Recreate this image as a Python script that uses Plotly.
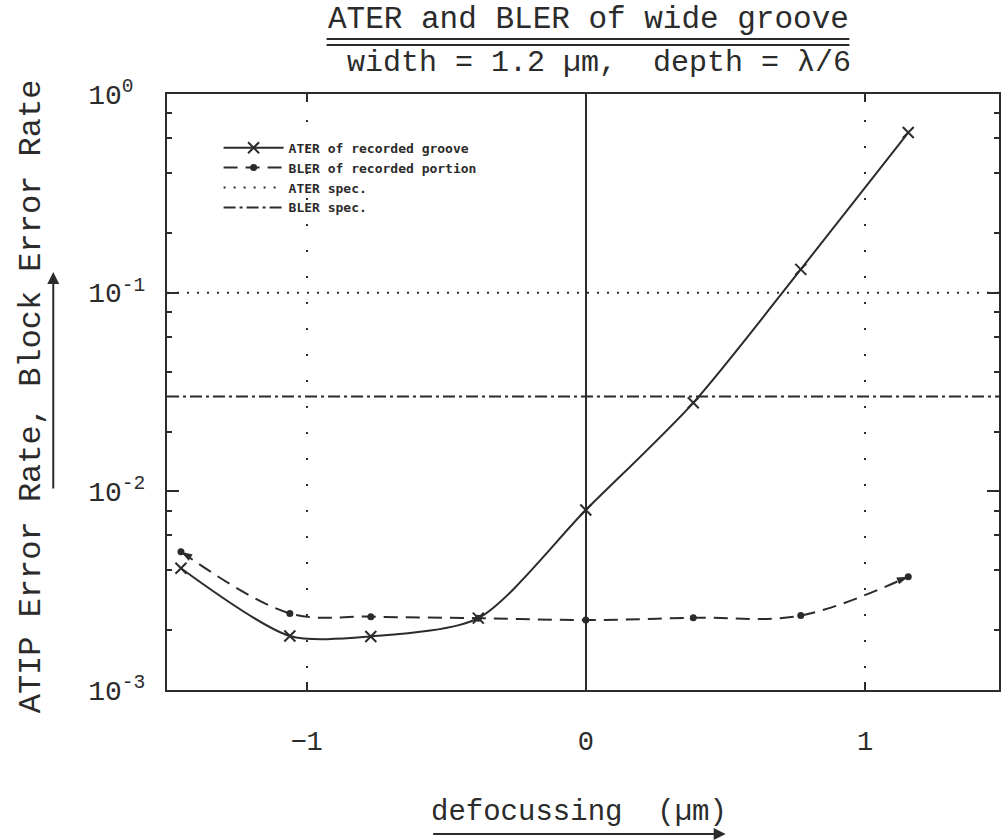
import plotly.graph_objects as go

# ---- data ----
DEFOCUS = [-1.45, -1.06, -0.77, -0.385, 0.0, 0.385, 0.77, 1.155]
ATER = [4.1e-3, 1.87e-3, 1.86e-3, 2.30e-3, 8.05e-3, 0.0279, 0.131, 0.64]
BLER = [4.97e-3, 2.43e-3, 2.34e-3, 2.30e-3, 2.25e-3, 2.31e-3, 2.37e-3, 3.72e-3]
ATER_SPEC = 0.1
BLER_SPEC = 0.03
X_RANGE = [-1.5, 1.48]
X_TICKS = [-1, 0, 1]
Y_DECADES = [-3, -2, -1, 0]
Y_TICK_LABELS = ["10<sup>-3</sup>", "10<sup>-2</sup>", "10<sup>-1</sup>", "10<sup>0\u00a0</sup>"]
MINOR_MULT = [2, 4, 6, 8]

INK = "#2b2b2b"
FONT = "Liberation Mono"
LEG_FONT = "DejaVu Sans Mono"

y_tickvals = [10 ** d for d in Y_DECADES]
y_minor = [m * 10 ** d for d in Y_DECADES[:-1] for m in MINOR_MULT]

fig = go.Figure()

fig.add_trace(go.Scatter(
    x=DEFOCUS, y=ATER, mode="lines+markers", name="ATER of recorded groove",
    line=dict(color=INK, width=2, shape="spline", smoothing=0.75),
    marker=dict(symbol="x-thin", size=11, color=INK, line=dict(color=INK, width=2)),
))
fig.add_trace(go.Scatter(
    x=DEFOCUS, y=BLER, mode="lines+markers", name="BLER of recorded portion",
    line=dict(color=INK, width=2, dash="14px,8px", shape="spline", smoothing=1.0),
    marker=dict(symbol="circle", size=7, color=INK),
))
# arrow heads at the two ends of the BLER curve
fig.add_trace(go.Scatter(
    x=[DEFOCUS[0], DEFOCUS[-1]], y=[BLER[0], BLER[-1]], mode="markers",
    showlegend=False, hoverinfo="skip",
    marker=dict(symbol="arrow", size=12, color=INK, angle=[-58, 68]),
))
fig.add_trace(go.Scatter(
    x=X_RANGE, y=[ATER_SPEC, ATER_SPEC], mode="lines", name="ATER spec.",
    line=dict(color=INK, width=2, dash="2px,8px"),
))
fig.add_trace(go.Scatter(
    x=X_RANGE, y=[BLER_SPEC, BLER_SPEC], mode="lines", name="BLER spec.",
    line=dict(color=INK, width=2, dash="12px,4px,3px,4px"),
))

fig.update_layout(
    width=1003, height=840,
    margin=dict(l=167, r=2, t=94, b=150),
    paper_bgcolor="white", plot_bgcolor="white",
    font=dict(family=FONT, color=INK),
    showlegend=True,
    legend=dict(
        x=0.062, y=0.935, xanchor="left", yanchor="top",
        bgcolor="rgba(0,0,0,0)", borderwidth=0,
        font=dict(family=LEG_FONT, size=13, color=INK, weight="bold"),
        itemwidth=60, tracegroupgap=0,
    ),
)

fig.update_xaxes(
    range=X_RANGE, tickvals=X_TICKS,
    ticks="inside", ticklen=8, tickwidth=2, tickcolor=INK,
    tickfont=dict(family=FONT, size=27, color=INK),
    ticklabelstandoff=26,
    showline=True, linecolor=INK, linewidth=2, mirror="ticks",
    showgrid=True, gridcolor=INK, gridwidth=2, griddash="2px,24px",
    zeroline=True, zerolinecolor=INK, zerolinewidth=2,
)
fig.update_yaxes(
    type="log", range=[Y_DECADES[0], Y_DECADES[-1]],
    tickvals=y_tickvals, ticktext=Y_TICK_LABELS,
    ticks="inside", ticklen=12, tickwidth=2, tickcolor=INK,
    tickfont=dict(family=FONT, size=28, color=INK),
    ticklabelstandoff=14,
    minor=dict(tickvals=y_minor, ticks="inside", ticklen=5, tickwidth=2, tickcolor=INK, showgrid=False),
    showline=True, linecolor=INK, linewidth=2, mirror="ticks",
    showgrid=False, zeroline=False,
)

def px_x(p):
    return (p - 167) / 834

def px_y(p):
    return (690 - p) / 596

annotations = [
    dict(text="ATER and BLER of wide groove", x=px_x(590), y=px_y(19),
         font=dict(size=31, family=FONT, color=INK)),
    dict(text="width = 1.2 µm,  depth = λ/6", x=px_x(600), y=px_y(63),
         font=dict(size=30, family=FONT, color=INK)),
    dict(text="ATIP Error Rate, Block Error Rate", x=px_x(31), y=px_y(396),
         textangle=-90, font=dict(size=32, family=FONT, color=INK)),
    dict(text="defocussing  (µm)", x=px_x(580), y=px_y(812),
         font=dict(size=29, family=FONT, color=INK)),
    # arrows
    dict(text="", x=px_x(53), y=px_y(272), ax=0, ay=218, showarrow=True,
         arrowhead=2, arrowsize=1.2, arrowwidth=2, arrowcolor=INK),
    dict(text="", x=px_x(727), y=px_y(834), ax=-294, ay=0, showarrow=True,
         arrowhead=2, arrowsize=1.2, arrowwidth=2, arrowcolor=INK),
]
for a in annotations:
    a.setdefault("showarrow", False)
    a.update(xref="paper", yref="paper", xanchor="center", yanchor="middle")
    fig.add_annotation(**a)

# double underline of the title
for yy in (39, 45):
    fig.add_shape(type="line", xref="paper", yref="paper",
                  x0=px_x(327), x1=px_x(851), y0=px_y(yy), y1=px_y(yy),
                  line=dict(color=INK, width=2))

fig.write_html("out.html")
